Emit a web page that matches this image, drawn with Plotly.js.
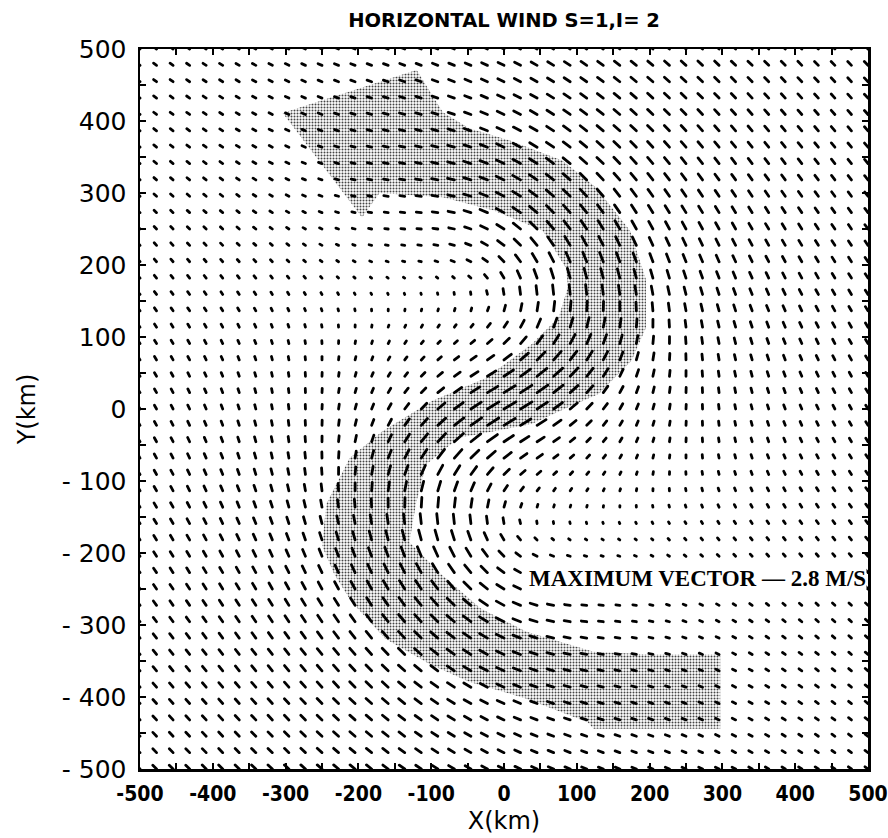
<!DOCTYPE html>
<html><head><meta charset="utf-8">
<script src="https://cdn.plot.ly/plotly-3.0.1.min.js"></script>
<style>
html,body{margin:0;padding:0;background:#fff;}
#chart{width:888px;height:838px;}
</style></head><body><div id="chart"></div>
<script>
// ---- grid of the wind vectors (45 x 45 points over the domain, km) ----
const gridCount = 45;
const domainMin = -500;
const domainMax = 500;

// ---- wind field ----
// background drift (m/s), towards the upper left
const backgroundU = [-0.62];
const backgroundV = [0.51];
// two eddies: centre (km), sense (+1 anticlockwise, -1 clockwise), peak speed (m/s), radius (km),
// and how much stronger they are on the side of the stippled band (bias, bearing in deg)
const eddyX = [-30, 30];
const eddyY = [150, -150];
const eddySpin = [1, -1];
const eddyPeak = [1.0, 1.0];
const eddyRadius = [200, 200];
const eddyBias = [0.5, 0.5];
const eddyBiasDir = [20, 200];
// central jet through the origin: centre (km), heading (deg), peak (m/s), half-length and half-width (km)
const jetX = [0];
const jetY = [0];
const jetHeading = [28];
const jetPeak = [1.2];
const jetLength = [150];
const jetWidth = [60];
const maxVector = [2.8]; // m/s, as written on the chart
const maxVectorKm = [19]; // drawn length of the maximum vector

// ---- stippled S-shaped band (km) ----
const bandX = [-304,-120,-84,-48,8,80,126,173,195,195,175,130,85,38,-62,-107,-121,-130,-86,-32,30,123,201,297,297,123,115,30,-47,-101,-163,-210,-233,-250,-244,-212,-167,-99,-25,38,75,88,85,53,-15,-84,-171,-195,-304];
const bandY = [411,471,412,390,373,345,308,248,180,113,67,21,1,-21,-40,-77,-132,-185,-230,-277,-309,-337,-341,-341,-444,-444,-435,-402,-379,-355,-319,-267,-230,-190,-132,-68,-31,11,43,90,127,170,196,248,276,294,300,266,411];

// ---- ticks ----
const tickVals = [-500,-450,-400,-350,-300,-250,-200,-150,-100,-50,0,50,100,150,200,250,300,350,400,450,500];
const xTickText = ['-500','','-400','','-300','','-200','','-100','','0','','100','','200','','300','','400','','500'];
const yTickText = ['- 500','','- 400','','- 300','','- 200','','- 100','','0','','100','','200','','300','','400','','500'];

// ---- build vectors (tail at grid point) ----
function eddyProfile(q) { return 2 * q / Math.pow(1 + q * q, 1.5) * Math.SQRT2; }
const step = (domainMax - domainMin) / (gridCount - 1);
const f = maxVectorKm[0] / maxVector[0];
const vx = [], vy = [];
for (let j = 0; j < gridCount; j++) {
  for (let i = 0; i < gridCount; i++) {
    const x = domainMin + i * step, y = domainMin + j * step;
    let u = backgroundU[0], v = backgroundV[0];
    for (let k = 0; k < eddyX.length; k++) {
      const dx = x - eddyX[k], dy = y - eddyY[k];
      const r = Math.hypot(dx, dy);
      if (r < 1e-6) continue;
      const th = Math.atan2(dy, dx) - eddyBiasDir[k] * Math.PI / 180;
      const s = eddyPeak[k] * eddyProfile(r / eddyRadius[k]) * (1 + eddyBias[k] * Math.cos(th));
      u += eddySpin[k] * s * (-dy / r);
      v += eddySpin[k] * s * (dx / r);
    }
    for (let k = 0; k < jetX.length; k++) {
      const a = jetHeading[k] * Math.PI / 180, ca = Math.cos(a), sa = Math.sin(a);
      const dx = x - jetX[k], dy = y - jetY[k];
      const dp = dx * ca + dy * sa, dn = -dx * sa + dy * ca;
      const s = jetPeak[k] * Math.exp(-Math.pow(dp / jetLength[k], 2) - Math.pow(dn / jetWidth[k], 2));
      u += s * ca; v += s * sa;
    }
    vx.push(x, x + u * f, null);
    vy.push(y, y + v * f, null);
  }
}

const traces = [
  {type:'scatter', mode:'lines', x: bandX, y: bandY, fill:'toself',
   fillcolor:'rgba(0,0,0,0)',
   fillpattern:{shape:'.', size:3, solidity:0.35, fgcolor:'#444', bgcolor:'#fff', fillmode:'replace'},
   line:{width:0, color:'rgba(0,0,0,0)'}, hoverinfo:'skip', showlegend:false},
  {type:'scatter', mode:'lines', x: vx, y: vy, line:{color:'#000', width:2.8},
   cliponaxis:false, hoverinfo:'skip', showlegend:false}
];

const axisCommon = {
  range:[-500,500], tickmode:'array', tickvals: tickVals,
  ticks:'inside', ticklen:6, tickwidth:2, tickcolor:'#000',
  showline:true, linewidth:2.5, linecolor:'#000', mirror:'ticks',
  showgrid:false, zeroline:false, automargin:false
};

const layout = {
  width:888, height:838,
  margin:{l:140, r:20, t:49, b:69},
  paper_bgcolor:'#fff', plot_bgcolor:'#fff',
  title:{text:'HORIZONTAL WIND S=1,I= 2', x:0.5, xref:'paper', y:1-20/838, yref:'container', yanchor:'middle',
         font:{family:'DejaVu Sans', size:19.5, color:'#000', weight:'bold'}},
  xaxis: Object.assign({}, axisCommon, {ticktext: xTickText,
     tickfont:{family:'DejaVu Sans Condensed, DejaVu Sans', size:21, color:'#000', weight:'bold'},
     ticklabelstandoff:4,
     title:{text:'X(km)', font:{family:'DejaVu Sans', size:24, color:'#000'}, standoff:8}}),
  yaxis: Object.assign({}, axisCommon, {ticktext: yTickText,
     tickfont:{family:'DejaVu Sans', size:25, color:'#000'},
     ticklabelstandoff:6,
     title:{text:'Y(km)', font:{family:'DejaVu Sans', size:24, color:'#000'}, standoff:20}}),
  annotations:[{xref:'x', yref:'y', x:499, y:-235, xanchor:'right', yanchor:'middle', showarrow:false,
    text:'MAXIMUM VECTOR — 2.8 M/S', bgcolor:'#fff', borderpad:0,
    font:{family:'Liberation Serif', size:23, color:'#000', weight:'bold'}}]
};

Plotly.newPlot('chart', traces, layout, {staticPlot:true, displayModeBar:false}).then(function(){
  document.querySelectorAll('.scatterlayer .js-line').forEach(function(p){ p.style.strokeLinecap = 'round'; });
});
</script></body></html>
